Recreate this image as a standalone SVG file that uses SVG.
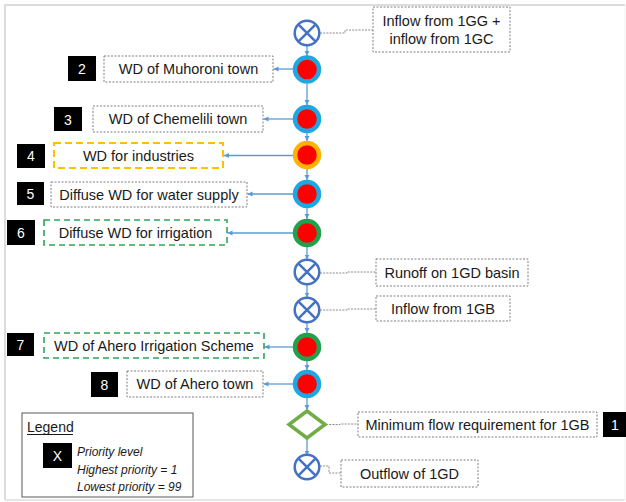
<svg xmlns="http://www.w3.org/2000/svg" width="626" height="502" viewBox="0 0 626 502">
<defs>
<style>
text{font-family:"Liberation Sans",Arial,sans-serif;font-size:14.5px;fill:#1a1a1a}
.lbl{text-anchor:middle;dominant-baseline:central}
.num{fill:#000}
.numt{fill:#fff;text-anchor:middle;dominant-baseline:central;font-size:14px}
.box{fill:#fff;stroke:#7f7f7f;stroke-width:1;stroke-dasharray:2 1.5}
.ybox{fill:#fff;stroke:#FFC000;stroke-width:2;stroke-dasharray:7 4}
.gbox{fill:#fff;stroke:#2EA659;stroke-width:1.6;stroke-dasharray:6 4}
.flow{stroke:#5B9BD5;stroke-width:1.3;fill:none}
.dot{stroke:#8c8c8c;stroke-width:1;stroke-dasharray:2 1.2;fill:none}
.xc{fill:#fff;stroke:#4472C4;stroke-width:2.5}
.it{font-style:italic;font-size:12px}
</style>
<marker id="ah" markerUnits="userSpaceOnUse" markerWidth="6" markerHeight="6" refX="5" refY="3" orient="auto">
<path d="M0,0.5 L5,3 L0,5.5 Z" fill="#5B9BD5"/>
</marker>
<g id="xsym"><circle r="12.3" class="xc"/><path d="M-8.7,-8.7 L8.7,8.7 M-8.7,8.7 L8.7,-8.7" stroke="#4472C4" stroke-width="2.5"/></g>
</defs>
<rect x="0" y="0" width="626" height="502" fill="#fff"/>
<path d="M5,500 V5 H625" fill="none" stroke="#dcdcdc" stroke-width="2"/>
<path d="M5,500 H625" fill="none" stroke="#e6e6e6" stroke-width="2"/>
<path d="M625,5 V500" fill="none" stroke="#f2f2f2" stroke-width="1"/>

<g id="connectors">
<path class="flow" marker-end="url(#ah)" d="M307,45.5 V56"/>
<path class="flow" marker-end="url(#ah)" d="M307,84 V105"/>
<path class="flow" marker-end="url(#ah)" d="M307,133 V141"/>
<path class="flow" marker-end="url(#ah)" d="M307,169 V180"/>
<path class="flow" marker-end="url(#ah)" d="M307,208 V219"/>
<path class="flow" marker-end="url(#ah)" d="M307,247 V259.5"/>
<path class="flow" marker-end="url(#ah)" d="M307,284.5 V297.5"/>
<path class="flow" marker-end="url(#ah)" d="M307,322.5 V333"/>
<path class="flow" marker-end="url(#ah)" d="M307,361 V370"/>
<path class="flow" marker-end="url(#ah)" d="M307,398 V410"/>
<path class="flow" marker-end="url(#ah)" d="M307,439 V455.5"/>
<path class="flow" marker-end="url(#ah)" d="M293,69 H273.5"/>
<path class="flow" marker-end="url(#ah)" d="M293,119 H263.5"/>
<path class="flow" marker-end="url(#ah)" d="M293,155.5 H224"/>
<path class="flow" marker-end="url(#ah)" d="M293,194 H247.5"/>
<path class="flow" marker-end="url(#ah)" d="M293,233 H227.5"/>
<path class="flow" marker-end="url(#ah)" d="M293,347 H264.5"/>
<path class="flow" marker-end="url(#ah)" d="M293,384 H263.5"/>
<path class="dot" d="M320,33 H345 V30 H373"/>
<path class="dot" d="M320,273 H347 V272 H376"/>
<path class="dot" d="M320,310 H347 V309 H376"/>
<path class="dot" d="M326,424.5 H340 V424 H358"/>
<path class="dot" d="M320,466 H329 V473 H341"/>
</g>

<g id="n-inflow1"><use href="#xsym" x="307" y="33"/></g>
<g id="n2"><circle cx="307" cy="69.5" r="12" fill="#FF0000" stroke="#1EA7E1" stroke-width="4.5"/></g>
<g id="n3"><circle cx="307" cy="119" r="12" fill="#FF0000" stroke="#1EA7E1" stroke-width="4.5"/></g>
<g id="n4"><circle cx="307" cy="155" r="12" fill="#FF0000" stroke="#FFB300" stroke-width="4.5"/></g>
<g id="n5"><circle cx="307" cy="194" r="12" fill="#FF0000" stroke="#1EA7E1" stroke-width="4.5"/></g>
<g id="n6"><circle cx="307" cy="233" r="12" fill="#FF0000" stroke="#22A04B" stroke-width="4.5"/></g>
<g id="n-runoff"><use href="#xsym" x="307" y="272"/></g>
<g id="n-inflow1gb"><use href="#xsym" x="307" y="310"/></g>
<g id="n7"><circle cx="307" cy="347" r="12" fill="#FF0000" stroke="#22A04B" stroke-width="4.5"/></g>
<g id="n8"><circle cx="307" cy="384" r="12" fill="#FF0000" stroke="#1EA7E1" stroke-width="4.5"/></g>
<g id="n1"><path d="M307,411 L325,424.5 L307,438 L289,424.5 Z" fill="#fff" stroke="#70AD47" stroke-width="3.5" stroke-linejoin="miter"/></g>
<g id="n-outflow"><use href="#xsym" x="307" y="467"/></g>

<g id="l-inflow1">
<rect class="box" x="373" y="7" width="137" height="45"/>
<text class="lbl" x="441.5" y="21">Inflow from 1GG +</text>
<text class="lbl" x="441.5" y="39">inflow from 1GC</text>
</g>
<g id="l2">
<rect class="num" x="68" y="56" width="28" height="25"/><text class="numt" x="82" y="69">2</text>
<rect class="box" x="104" y="56" width="169" height="26"/><text class="lbl" x="188.5" y="69">WD of Muhoroni town</text>
</g>
<g id="l3">
<rect class="num" x="54" y="107" width="28" height="24"/><text class="numt" x="68" y="119.5">3</text>
<rect class="box" x="93" y="106" width="170" height="26"/><text class="lbl" x="178" y="119">WD of Chemelili town</text>
</g>
<g id="l4">
<rect class="num" x="17" y="144" width="28" height="24"/><text class="numt" x="31" y="156">4</text>
<rect class="ybox" x="54" y="143" width="169" height="25"/><text class="lbl" x="138.5" y="155.5">WD for industries</text>
</g>
<g id="l5">
<rect class="num" x="17" y="182" width="27" height="23"/><text class="numt" x="30.5" y="193.5">5</text>
<rect class="box" x="51" y="182" width="196" height="25"/><text class="lbl" x="149" y="194.5">Diffuse WD for water supply</text>
</g>
<g id="l6">
<rect class="num" x="7" y="220" width="28" height="25"/><text class="numt" x="21" y="232.5">6</text>
<rect class="gbox" x="44" y="220" width="183" height="25"/><text class="lbl" x="135.5" y="232.5">Diffuse WD for irrigation</text>
</g>
<g id="l-runoff">
<rect class="box" x="376" y="259" width="152" height="27"/><text class="lbl" x="452" y="272.5">Runoff on 1GD basin</text>
</g>
<g id="l-inflow1gb">
<rect class="box" x="376" y="296" width="134" height="25"/><text class="lbl" x="443" y="308.5">Inflow from 1GB</text>
</g>
<g id="l7">
<rect class="num" x="7" y="333" width="27" height="23"/><text class="numt" x="20.5" y="344.5">7</text>
<rect class="gbox" x="44" y="333" width="220" height="25"/><text class="lbl" x="154" y="345.5">WD of Ahero Irrigation Scheme</text>
</g>
<g id="l8">
<rect class="num" x="91" y="372" width="27" height="25"/><text class="numt" x="104.5" y="384.5">8</text>
<rect class="box" x="127" y="371" width="136" height="26"/><text class="lbl" x="195" y="384">WD of Ahero town</text>
</g>
<g id="l1">
<rect class="box" x="358" y="412" width="239" height="25"/><text class="lbl" x="477.5" y="424.5">Minimum flow requirement for 1GB</text>
<rect class="num" x="603" y="412" width="23" height="25"/><text class="numt" x="615" y="424.5">1</text>
</g>
<g id="l-outflow">
<rect class="box" x="341" y="460" width="137" height="27"/><text class="lbl" x="409.5" y="473.5">Outflow of 1GD</text>
</g>

<g id="legend">
<rect x="22" y="413" width="171" height="84" fill="#fff" stroke="#595959" stroke-width="1"/>
<text x="27" y="432" style="font-size:14px">Legend</text>
<line x1="27" y1="434.5" x2="73" y2="434.5" stroke="#1a1a1a" stroke-width="1"/>
<rect class="num" x="43" y="443" width="29" height="25"/><text class="numt" x="57.5" y="456">X</text>
<text class="it" x="77" y="456">Priority level</text>
<text class="it" x="77" y="474">Highest priority = 1</text>
<text class="it" x="77" y="491">Lowest priority = 99</text>
</g>
</svg>
